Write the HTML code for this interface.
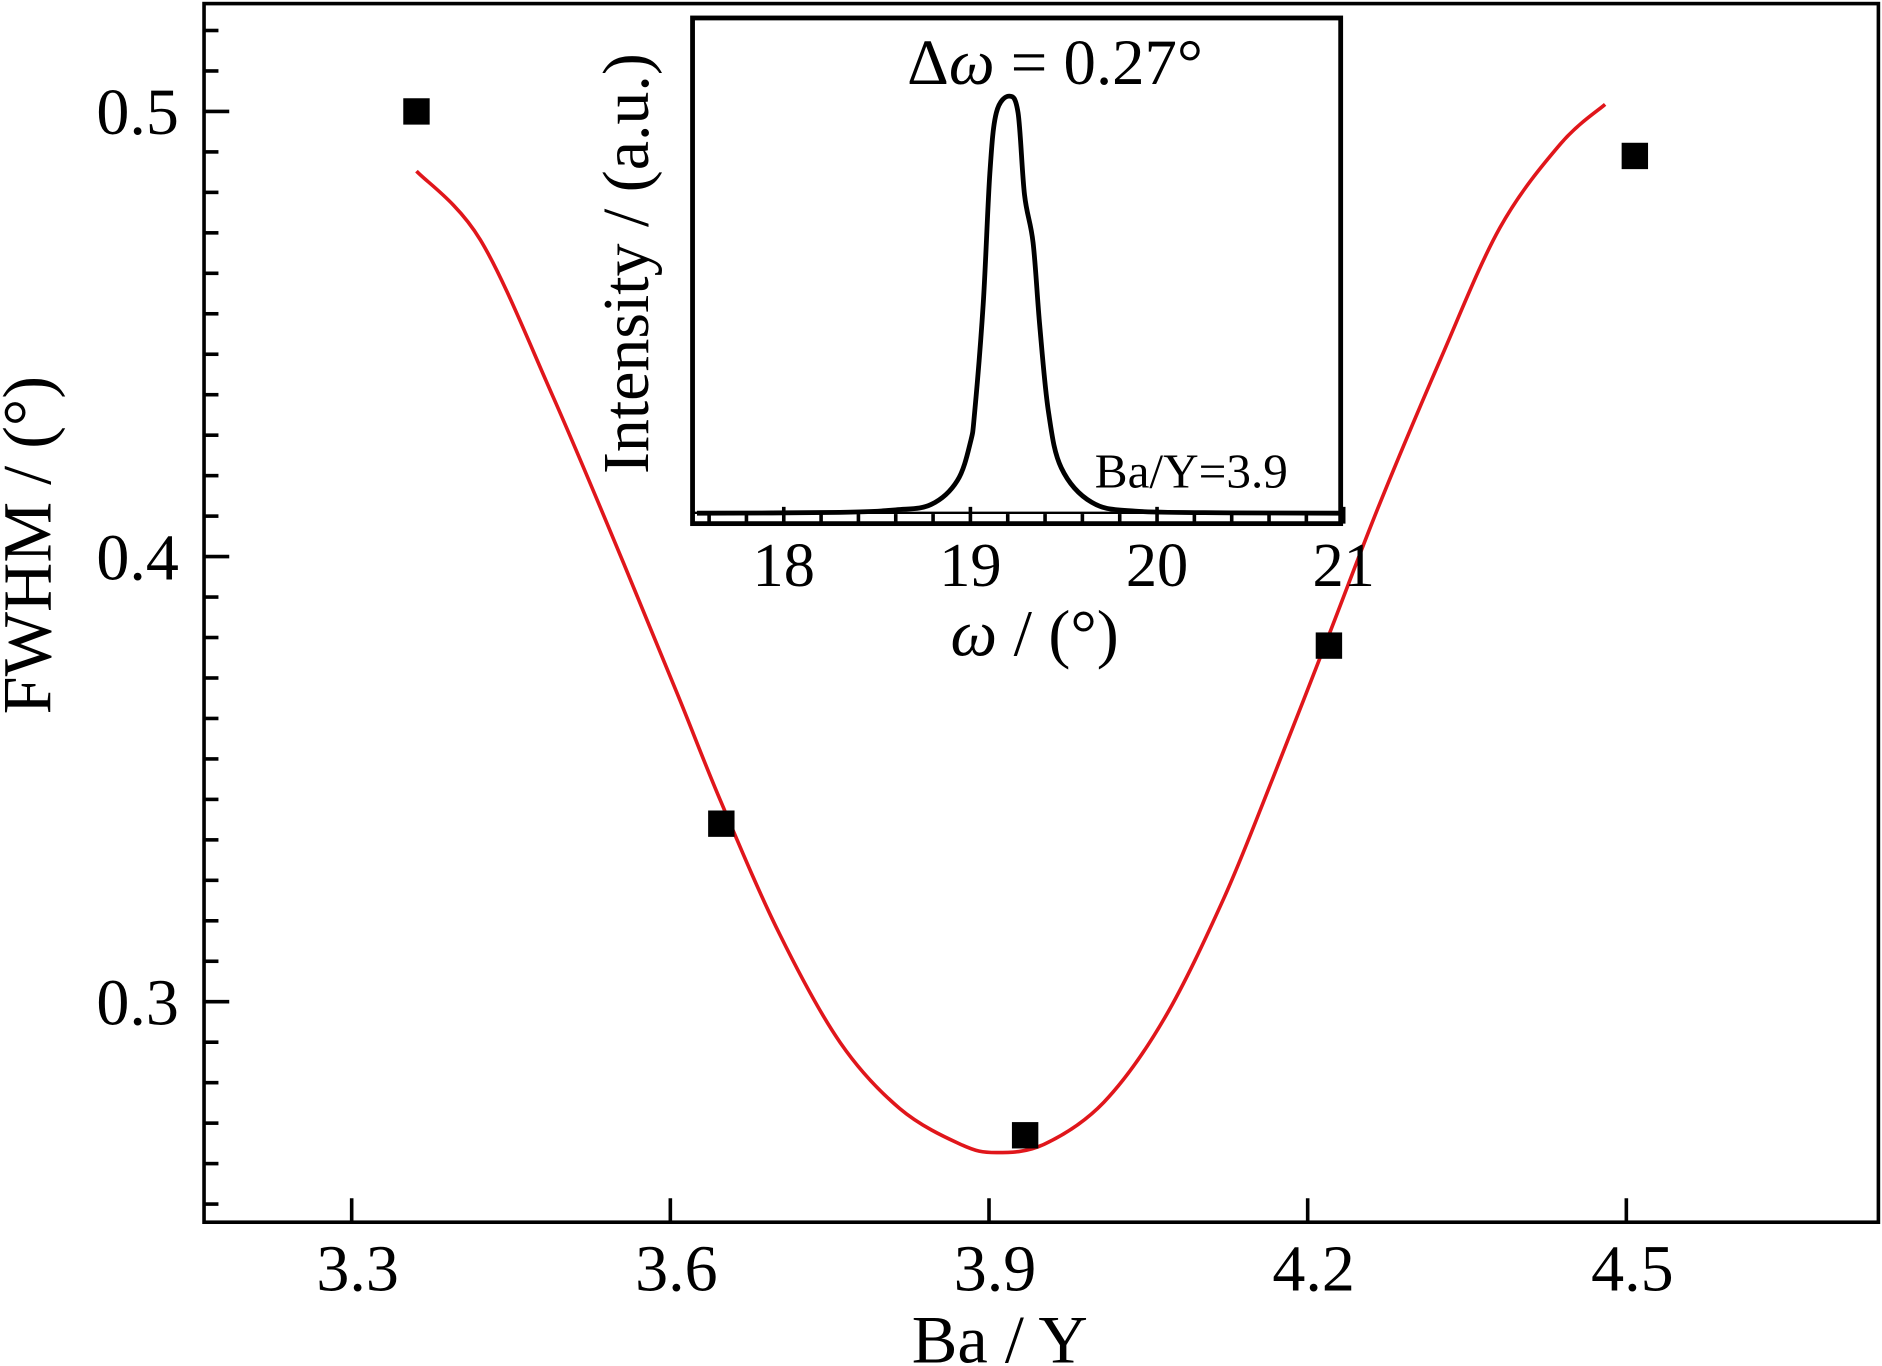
<!DOCTYPE html>
<html><head><meta charset="utf-8"><style>
html,body{margin:0;padding:0;background:#fff;}
svg{display:block;font-family:"Liberation Serif",serif;}
</style></head><body>
<svg id="chart" width="1882" height="1366" viewBox="0 0 1568 1140" preserveAspectRatio="none" xmlns="http://www.w3.org/2000/svg">
<rect x="0" y="0" width="1568" height="1140" fill="#fff"/>
<g id="main"></g>
<g id="inset"></g>
</svg>
<script>
const NS="http://www.w3.org/2000/svg";
const xTicks=[3.3,3.6,3.9,4.2,4.5];
const xTickLabels=["3.3","3.6","3.9","4.2","4.5"];
const yTicks=[0.3,0.4,0.5];
const yTickLabels=["0.3","0.4","0.5"];
const ratioX=[3.361,3.648,3.934,4.220,4.508];
const fwhmY=[0.500,0.340,0.270,0.380,0.490];
const fitX=[3.361,3.421,3.489,3.556,3.607,3.648,3.703,3.760,3.816,3.873,3.907,3.952,4.008,4.065,4.121,4.167,4.220,4.268,4.325,4.381,4.438,4.480];
const fitY=[0.4866,0.4712,0.4362,0.3985,0.3689,0.3447,0.3151,0.2908,0.2760,0.2680,0.2661,0.2680,0.2774,0.2962,0.3232,0.3501,0.3824,0.4120,0.4443,0.4739,0.4927,0.5016];
const insetXTicks=[18,19,20,21];
const insetXTickLabels=["18","19","20","21"];
const omega=[17.535,18.3,18.6,18.79,18.93,19.0,19.023,19.069,19.104,19.139,19.208,19.255,19.29,19.336,19.371,19.418,19.487,19.65,19.882,20.4,20.975];
const intensity=[0,0.002,0.008,0.021,0.078,0.17,0.244,0.503,0.815,0.96,1.0,0.96,0.763,0.649,0.452,0.244,0.109,0.026,0.005,0.001,0];

function mk(parent,tag,attrs,text){const e=document.createElementNS(NS,tag);for(const k in attrs)e.setAttribute(k,attrs[k]);if(text!==undefined)e.textContent=text;parent.appendChild(e);return e;}
function smooth(pts){let pd='M'+pts[0][0].toFixed(1)+','+pts[0][1].toFixed(1);
 for(let i=0;i<pts.length-1;i++){const p0=pts[Math.max(0,i-1)],p1=pts[i],p2=pts[i+1],p3=pts[Math.min(pts.length-1,i+2)];
 pd+=' C'+(p1[0]+(p2[0]-p0[0])/6).toFixed(1)+','+(p1[1]+(p2[1]-p0[1])/6).toFixed(1)+' '+(p2[0]-(p3[0]-p1[0])/6).toFixed(1)+','+(p2[1]-(p3[1]-p1[1])/6).toFixed(1)+' '+p2[0].toFixed(1)+','+p2[1].toFixed(1);}
 return pd;}
const L=170,R=1565,T=3,B=1020;
const sx=v=>293+(v-3.3)*885;
const sy=v=>93+(0.5-v)*3715;
const main=document.getElementById('main');
let f=mk(main,'rect',{x:L,y:T,width:R-L,height:B-T,fill:'none',stroke:'#000','stroke-width':3});


const step=0.1/11;
for(let k=-30;k<=30;k++){const v=0.3+k*step;const y=sy(v);if(y<T+5||y>B-5)continue;
 const major=Math.abs(k%11)===0;
 const t=mk(main,'line',{x1:L,x2:L+(major?21:12),y1:y,y2:y,stroke:'#000','stroke-width':3});
 
 }
yTicks.forEach((v,i)=>{const t=mk(main,'text',{x:149,y:sy(v)+19,'font-size':55,'text-anchor':'end'},yTickLabels[i]);
 
 });
xTicks.forEach((v,i)=>{const l=mk(main,'line',{x1:sx(v),x2:sx(v),y1:B,y2:B-20,stroke:'#000','stroke-width':3});
 
 
 const t=mk(main,'text',{x:sx(v)+5,y:1077,'font-size':55,'text-anchor':'middle'},xTickLabels[i]);
 
 });
let xt=mk(main,'text',{x:833,y:1137,'font-size':57,'text-anchor':'middle'},'Ba / Y');


let yt=mk(main,'text',{x:0,y:0,'font-size':57,'text-anchor':'middle',transform:'translate(42,455) rotate(-90)'},'FWHM / (°)');


let fc=mk(main,'path',{d:smooth(fitX.map((v,i)=>[sx(v),sy(fitY[i])])),fill:'none',stroke:'#e0161b','stroke-width':3,'stroke-linejoin':'round'});


ratioX.forEach((v,i)=>{const s=22;const r=mk(main,'rect',{x:sx(v)-s/2,y:sy(fwhmY[i])-s/2,width:s,height:s,fill:'#000'});
 
 });

const ins=document.getElementById('inset');
const IL=577,IR=1117,IT=15,IB=437;
const ix=v=>653+(v-18)*155.5;
const iy=v=>428.3-v*348.1;
let ib=mk(ins,'rect',{x:IL,y:IT,width:IR-IL,height:IB-IT,fill:'#fff',stroke:'#000','stroke-width':4});


let bl=mk(ins,'line',{x1:IL,x2:IR,y1:428,y2:428,stroke:'#000','stroke-width':2});


for(let v=17.6;v<=21.0;v+=0.2){const vv=Math.round(v*10)/10;const major=Math.abs(vv-Math.round(vv))<1e-6;
 const t=mk(ins,'line',{x1:ix(vv),x2:ix(vv),y1:IB,y2:IB-(major?14:8),stroke:'#000','stroke-width':3});
 
 }
insetXTicks.forEach((v,i)=>{const t=mk(ins,'text',{x:ix(v),y:489,'font-size':52,'text-anchor':'middle'},insetXTickLabels[i]);
 
 });
let pk=mk(ins,'path',{d:smooth(omega.map((v,i)=>[ix(v),iy(intensity[i])])),fill:'none',stroke:'#000','stroke-width':4,'stroke-linejoin':'round'});


let dw=mk(ins,'text',{x:879,y:70,'font-size':54,'text-anchor':'middle'});


dw.innerHTML='Δ<tspan font-style="italic">ω</tspan> = 0.27°';
let sl=mk(ins,'text',{x:1073,y:407,'font-size':41,'text-anchor':'end'},'Ba/Y=3.9');


let it=mk(ins,'text',{x:0,y:0,'font-size':55,'text-anchor':'middle',transform:'translate(540,220) rotate(-90)'},'Intensity / (a.u.)');


let ot=mk(ins,'text',{x:862,y:547,'font-size':55,'text-anchor':'middle'});


ot.innerHTML='<tspan font-style="italic">ω</tspan> / (°)';
</script>
</body></html>
